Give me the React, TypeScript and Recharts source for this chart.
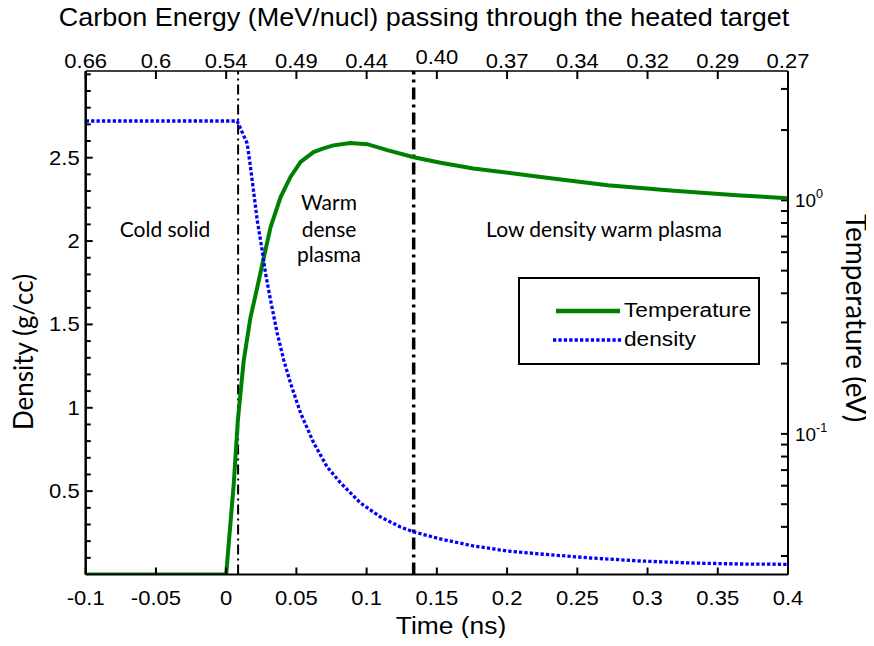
import React from 'react';
import { LineChart, Line, XAxis, YAxis, ReferenceLine, Legend } from 'recharts';

// ---------- data ----------
const timeTicks = [-0.1, -0.05, 0, 0.05, 0.1, 0.15, 0.2, 0.25, 0.3, 0.35, 0.4];
const timeTickLabels = ['-0.1', '-0.05', '0', '0.05', '0.1', '0.15', '0.2', '0.25', '0.3', '0.35', '0.4'];
const energyTickLabels = ['0.66', '0.6', '0.54', '0.49', '0.44', '0.40', '0.37', '0.34', '0.32', '0.29', '0.27'];

const densityMajorTicks = [0.5, 1, 1.5, 2, 2.5];
const densityTickLabels = ['0.5', '1', '1.5', '2', '2.5'];
const densityMinorTicks = [0.1, 0.2, 0.3, 0.4, 0.6, 0.7, 0.8, 0.9, 1.1, 1.2, 1.3, 1.4, 1.6, 1.7, 1.8, 1.9, 2.1, 2.2, 2.3, 2.4, 2.6, 2.7, 2.8, 2.9, 3.0];

const tempMajorTicks = [0.1, 1];
const tempTickExponents = ['-1', '0'];
const tempMinorTicks = [0.03, 0.04, 0.05, 0.06, 0.07, 0.08, 0.09, 0.2, 0.3, 0.4, 0.5, 0.6, 0.7, 0.8, 0.9, 2, 3];

const tempTimes = [-0.1, 0, 0.0054, 0.0083, 0.0125, 0.0173, 0.0221, 0.0268, 0.0316, 0.0387, 0.0458, 0.053, 0.0622, 0.0693, 0.0764, 0.0885, 0.1004, 0.1147, 0.1336, 0.1526, 0.176, 0.224, 0.2715, 0.3186, 0.366, 0.4];
const tempValues = [0.025, 0.025, 0.061, 0.114, 0.206, 0.315, 0.423, 0.569, 0.766, 1.03, 1.26, 1.46, 1.61, 1.67, 1.72, 1.76, 1.74, 1.64, 1.53, 1.45, 1.37, 1.26, 1.16, 1.10, 1.05, 1.02];

const densTimes = [-0.1, 0.0078, 0.0102, 0.015, 0.0173, 0.0197, 0.0221, 0.0256, 0.028, 0.0316, 0.0363, 0.041, 0.0458, 0.053, 0.0624, 0.0719, 0.0814, 0.0956, 0.1099, 0.1241, 0.1336, 0.1526, 0.1761, 0.2003, 0.2239, 0.2595, 0.2951, 0.3307, 0.3663, 0.4];
const densValues = [2.72, 2.72, 2.675, 2.585, 2.445, 2.287, 2.125, 1.946, 1.808, 1.646, 1.448, 1.286, 1.148, 0.968, 0.788, 0.645, 0.55, 0.429, 0.345, 0.285, 0.255, 0.213, 0.171, 0.141, 0.123, 0.099, 0.081, 0.069, 0.063, 0.061];

const phaseBoundaries = [0.0085, 0.1335];

const tempData = tempTimes.map((t, i) => ({ t, T: tempValues[i] }));
const densData = densTimes.map((t, i) => ({ t, d: densValues[i] }));

// ---------- axis domains / tick mark lengths ----------
const T_MIN = -0.1;
const T_MAX = 0.4;
const D_MAX = 3.02;
const TEMP_DOMAIN = [0.025, 3.58];
const Y_TICK_LEN_MAJOR = 0.005; // ns ≈ 7px
const Y_TICK_LEN_MINOR = 0.0036; // ns ≈ 5px
const X_TICK_PX = 7;

// ---------- styles ----------
const ARIAL = "'Liberation Sans', Arial, sans-serif";
const HUMANIST = "Lato, 'Open Sans', sans-serif";
const GREEN = '#008000';
const BLUE = '#0000ff';
const W = 866;
const H = 638;

function SText({ x, y, anchor = 'start', size, sx = 1.1, children, family = ARIAL }: any) {
  return (
    <text
      transform={`translate(${x},${y}) scale(${sx},1)`}
      textAnchor={anchor}
      fontFamily={family}
      fontSize={size}
      fill="#000"
    >
      {children}
    </text>
  );
}

const BottomTick = (props: any) => {
  const x = Number(props.x);
  const y = Number(props.y);
  const i = timeTicks.indexOf(props.payload.value);
  return <SText x={x} y={y + 30} anchor="middle" size={20}>{timeTickLabels[i]}</SText>;
};

const TopTick = (props: any) => {
  const x = Number(props.x);
  const y = Number(props.y);
  const i = timeTicks.indexOf(props.payload.value);
  const lab = energyTickLabels[i];
  return (
    <g>
      <path d={`M${x},${y}V${y + X_TICK_PX + 1}`} stroke="#000" strokeWidth={2} fill="none" />
      <SText x={x} y={y - 3 - (lab === '0.40' ? 4 : 0)} anchor="middle" size={20}>{lab}</SText>
    </g>
  );
};

const LeftTick = (props: any) => {
  const x = Number(props.x);
  const y = Number(props.y);
  const i = densityMajorTicks.indexOf(props.payload.value);
  if (i < 0) return <g />;
  return <SText x={x - 6} y={y + 7} anchor="end" size={20}>{densityTickLabels[i]}</SText>;
};

const RightTick = (props: any) => {
  const x = Number(props.x);
  const y = Number(props.y);
  const i = tempMajorTicks.indexOf(props.payload.value);
  if (i < 0) return <g />;
  return (
    <text transform={`translate(${x + 7},${y + 7}) scale(1.05,1)`} fontFamily={ARIAL} fontSize={18} fill="#000">
      <tspan>10</tspan>
      <tspan dy={-9} fontSize={12}>{tempTickExponents[i]}</tspan>
    </text>
  );
};

const LegendBox = (props: any) => {
  const payload = props.payload || [];
  return (
    <div style={{ width: 238, height: 84, border: '2px solid #000', background: '#fff' }}>
      <svg width={238} height={84}>
        {payload.map((entry: any, k: number) => {
          const dash = entry.payload && entry.payload.strokeDasharray;
          const yLine = k === 0 ? 32 : 61;
          const yText = k === 0 ? 38 : 67;
          return (
            <g key={k}>
              <line
                x1={k === 0 ? 36 : 33}
                x2={k === 0 ? 100 : 102}
                y1={yLine}
                y2={yLine}
                stroke={entry.color}
                strokeWidth={k === 0 ? 4.5 : 3.3}
                strokeDasharray={dash}
              />
              <SText x={104} y={yText} size={21} sx={1.08}>{entry.value}</SText>
            </g>
          );
        })}
      </svg>
    </div>
  );
};

const tickMark = { stroke: '#000', strokeWidth: 2, ifOverflow: 'visible' as const };

export default function App() {
  const allDensTicks = [...densityMinorTicks, ...densityMajorTicks].sort((a, b) => a - b);
  const allTempTicks = [...tempMinorTicks, ...tempMajorTicks].sort((a, b) => a - b);
  return (
    <div style={{ position: 'relative', width: W, height: H, marginRight: -8, marginBottom: -8 }}>
      <LineChart width={W} height={H} margin={{ top: 0, right: 0, bottom: 0, left: 0 }}>
        <XAxis
          xAxisId="bottom"
          dataKey="t"
          type="number"
          domain={[T_MIN, T_MAX]}
          allowDataOverflow
          ticks={timeTicks}
          interval={0}
          height={71.5}
          tickSize={-X_TICK_PX}
          tickMargin={X_TICK_PX}
          tickLine={{ stroke: '#000', strokeWidth: 2 }}
          tick={<BottomTick />}
          stroke="#000"
          axisLine={{ stroke: '#000', strokeWidth: 2 }}
        />
        <XAxis
          xAxisId="top"
          orientation="top"
          dataKey="t"
          type="number"
          domain={[T_MIN, T_MAX]}
          allowDataOverflow
          ticks={timeTicks}
          interval={0}
          height={63}
          tickSize={0}
          tickMargin={0}
          tickLine={false}
          tick={<TopTick />}
          stroke="#000"
          axisLine={{ stroke: '#000', strokeWidth: 1.5 }}
        />
        <YAxis
          yAxisId="dens"
          type="number"
          domain={[0, D_MAX]}
          allowDataOverflow
          ticks={allDensTicks}
          interval={0}
          width={77.7}
          tickSize={0}
          tickMargin={0}
          tickLine={false}
          tick={<LeftTick />}
          stroke="#000"
          axisLine={{ stroke: '#000', strokeWidth: 2.5 }}
        />
        <YAxis
          yAxisId="temp"
          orientation="right"
          type="number"
          scale="log"
          domain={TEMP_DOMAIN}
          allowDataOverflow
          ticks={allTempTicks}
          interval={0}
          width={86}
          tickSize={0}
          tickMargin={0}
          tickLine={false}
          tick={<RightTick />}
          stroke="#000"
          axisLine={{ stroke: '#000', strokeWidth: 2 }}
        />

        {allDensTicks.map((d) => (
          <ReferenceLine
            key={'td' + d}
            xAxisId="bottom"
            yAxisId="dens"
            segment={[
              { x: T_MIN, y: d },
              { x: T_MIN + (densityMajorTicks.indexOf(d) >= 0 ? Y_TICK_LEN_MAJOR : Y_TICK_LEN_MINOR), y: d },
            ]}
            {...tickMark}
          />
        ))}
        {allTempTicks.map((v) => (
          <ReferenceLine
            key={'tr' + v}
            xAxisId="bottom"
            yAxisId="temp"
            segment={[{ x: T_MAX - Y_TICK_LEN_MAJOR, y: v }, { x: T_MAX, y: v }]}
            {...tickMark}
          />
        ))}

        <ReferenceLine
          x={phaseBoundaries[0]}
          xAxisId="bottom"
          yAxisId="dens"
          stroke="#000"
          strokeWidth={2}
          strokeDasharray="10 4 2 4"
        />
        <ReferenceLine
          x={phaseBoundaries[1]}
          xAxisId="bottom"
          yAxisId="dens"
          stroke="#000"
          strokeWidth={3.5}
          strokeDasharray="12 5 3 5"
        />
        <Line
          name="Temperature"
          data={tempData}
          dataKey="T"
          xAxisId="bottom"
          yAxisId="temp"
          type="linear"
          stroke={GREEN}
          strokeWidth={4}
          dot={false}
          activeDot={false}
          isAnimationActive={false}
        />
        <Line
          name="density"
          data={densData}
          dataKey="d"
          xAxisId="bottom"
          yAxisId="dens"
          type="linear"
          stroke={BLUE}
          strokeWidth={3.3}
          strokeDasharray="3.3 2.1"
          dot={false}
          activeDot={false}
          isAnimationActive={false}
        />
        <Legend
          layout="vertical"
          align="center"
          verticalAlign="middle"
          content={<LegendBox />}
          wrapperStyle={{ position: 'absolute', left: 510, top: 269, width: 242, height: 88 }}
        />
      </LineChart>
      <svg
        width={874}
        height={646}
        style={{ position: 'absolute', left: -8, top: -8, pointerEvents: 'none' }}
      >
        <SText x={424} y={26} anchor="middle" size={25} sx={1.08}>
          Carbon Energy (MeV/nucl) passing through the heated target
        </SText>
        <SText x={451} y={634} anchor="middle" size={24} sx={1.1}>Time (ns)</SText>
        <text transform="translate(33,352) rotate(-90)" textAnchor="middle" fontFamily={HUMANIST} fontSize={26} fill="#000">
          Density (g/cc)
        </text>
        <text transform="translate(846,318) rotate(90)" textAnchor="middle" fontFamily={HUMANIST} fontSize={28} fill="#000">
          Temperature (eV)
        </text>
        <text x={165} y={236.5} textAnchor="middle" fontFamily={HUMANIST} fontSize={21} fill="#000">Cold solid</text>
        <text x={329} y={210} textAnchor="middle" fontFamily={HUMANIST} fontSize={21} fill="#000">Warm</text>
        <text x={329} y={236.5} textAnchor="middle" fontFamily={HUMANIST} fontSize={21} fill="#000">dense</text>
        <text x={329} y={262} textAnchor="middle" fontFamily={HUMANIST} fontSize={21} fill="#000">plasma</text>
        <text x={604} y={236.5} textAnchor="middle" fontFamily={HUMANIST} fontSize={21} fill="#000">Low density warm plasma</text>
      </svg>
    </div>
  );
}
